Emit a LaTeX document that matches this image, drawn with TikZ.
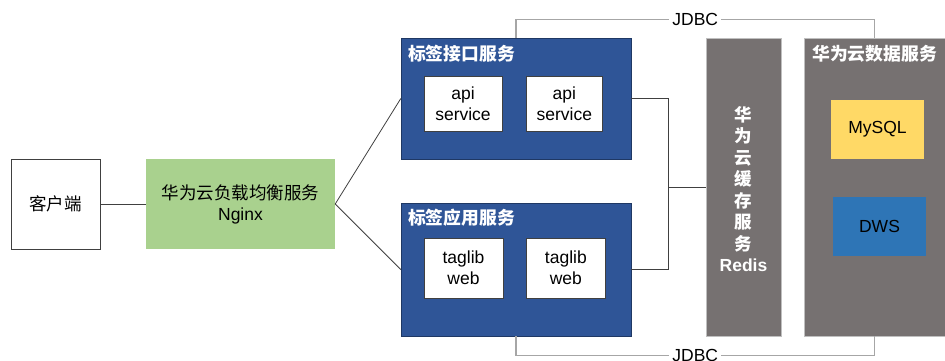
\documentclass[tikz,border=0pt]{standalone}
\usepackage{fontspec}
\setmainfont{Liberation Sans}
\newfontfamily\cjk{Noto Sans CJK SC}
\usetikzlibrary{positioning}
\definecolor{svcblue}{HTML}{2F5597}
\definecolor{svcedge}{HTML}{1F3864}
\definecolor{cachegray}{HTML}{767171}
\definecolor{nginxgreen}{HTML}{A9D18E}
\definecolor{sqlyellow}{HTML}{FFD966}
\definecolor{dwsblue}{HTML}{2E75B6}
\definecolor{linkgray}{HTML}{404040}
\definecolor{jdbcgray}{HTML}{A6A6A6}

\begin{document}
\begin{tikzpicture}[
    x=1pt, y=-1pt,
    font=\fontsize{17.5}{21}\selectfont,
    node distance=24pt,
    box/.style={rectangle, draw=linkgray, fill=white, inner sep=0pt, align=center},
    group/.style={rectangle, draw=svcedge, fill=svcblue, inner sep=0pt},
    cloud/.style={rectangle, draw=gray!50, fill=cachegray, inner sep=0pt},
    title/.style={text=white, inner sep=0pt, font=\cjk\bfseries\fontsize{17.8}{21}\selectfont},
    link/.style={draw=linkgray, line width=0.8pt},
    jdbc/.style={draw=jdbcgray, line width=1.3pt}
]
\useasboundingbox (0,0) rectangle (945,360);

% client and load balancer
\node[box, minimum width=89pt, minimum height=90pt] (client) at (55.5,204) {{\cjk 客户端}};
\node[box, draw=none, fill=nginxgreen, minimum width=189pt, minimum height=90pt] (nginx) at (240.5,204) {{\cjk 华为云负载均衡服务}\\Nginx};

% service groups
\node[group, minimum width=230pt, minimum height=121pt] (upper) at (516,98.5) {};
\node[group, minimum width=230pt, minimum height=133pt] (lower) at (516,269.5) {};
\node[title, anchor=west] (uptitle) at ([shift={(7,16)}]upper.north west) {标签接口服务};
\node[title, anchor=west] (lowtitle) at ([shift={(7,15)}]lower.north west) {标签应用服务};

\node[box, minimum width=78pt, minimum height=55pt] (api1) at (463,103.5) {api\\service};
\node[box, minimum width=76pt, minimum height=55pt, right=of api1] (api2) {api\\service};
\node[box, minimum width=79pt, minimum height=60pt] (web1) at (463.5,268) {taglib\\web};
\node[box, minimum width=79pt, minimum height=60pt, right=23pt of web1] (web2) {taglib\\web};

% cache and data services
\node[cloud, minimum width=75pt, minimum height=298pt] (redis) at (743.5,187) {};
\node[title, align=center, font=\cjk\bfseries\fontsize{17.5}{21.5}\selectfont] (redislabel) at ([yshift=-2pt]redis.center)
    {华\\为\\云\\缓\\存\\服\\务\\\normalfont\bfseries Redis};
\node[cloud, minimum width=141pt, minimum height=298pt] (data) at (874.5,187) {};
\node[title] (datatitle) at ([shift={(0,16)}]data.north) {华为云数据服务};
\node[box, draw=none, fill=sqlyellow, minimum width=93pt, minimum height=59pt] (mysql) at (877.5,129.5) {MySQL};
\node[box, draw=none, fill=dwsblue, minimum width=93pt, minimum height=59pt] (dws) at (879.5,226.5) {DWS};

% connectors
\coordinate (hub) at (668,187);
\draw[link] (client) -- (nginx);
\draw[link] (nginx.east) -- (upper.west);
\draw[link] (nginx.east) -- (lower.west);
\draw[link] (upper.east) -| (hub) -- (redis.west);
\draw[link] (lower.east) -| (hub);

\draw[jdbc] (upper.north) -- ++(0,-18) -| node[pos=0.25, fill=white, inner sep=3pt] {JDBC} (data.north);
\draw[jdbc] (lower.south) -- ++(0,19) -| node[pos=0.25, fill=white, inner sep=3pt] {JDBC} (data.south);
\end{tikzpicture}
\end{document}
